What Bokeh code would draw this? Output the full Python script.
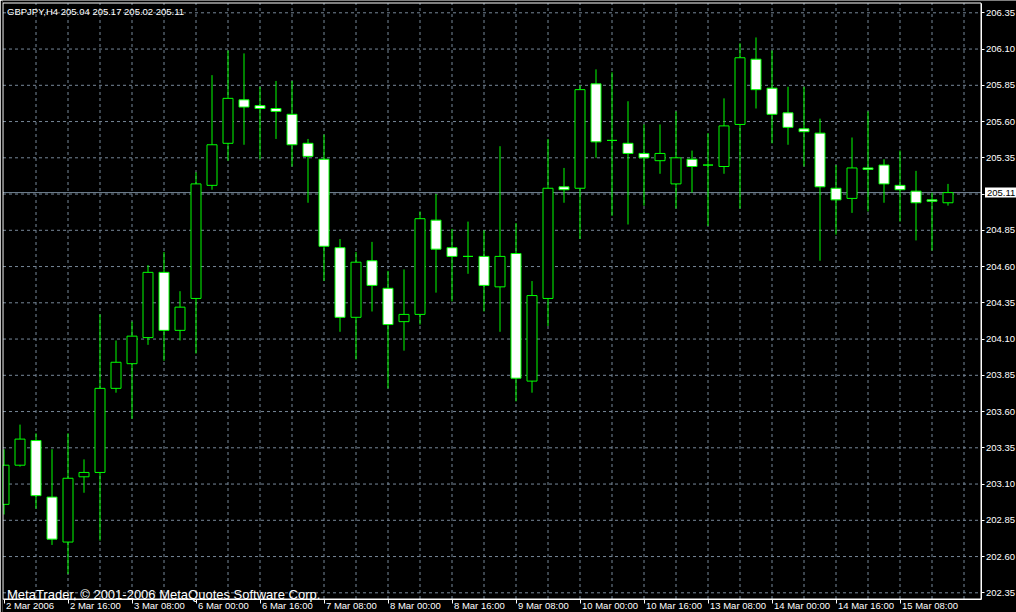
from bokeh.plotting import figure
from bokeh.models import (FixedTicker, Label, LabelSet, ColumnDataSource,
                          Range1d, PrintfTickFormatter, LinearAxis)
from bokeh.core.properties import value
from bokeh.embed import file_html
from bokeh.resources import INLINE

# ---------------- data ----------------
symbol_title = "GBPJPY,H4  205.04 205.17 205.02 205.11"
copyright_text = "MetaTrader, \u00a9 2001-2006 MetaQuotes Software Corp."
current_price = 205.11

opens = [202.96, 203.23, 203.40, 203.01, 202.70, 203.15, 203.18, 203.76, 203.93, 204.11,
         204.56, 204.16, 204.38, 205.16, 205.45, 205.75, 205.71, 205.69, 205.65, 205.45,
         205.34, 204.73, 204.25, 204.64, 204.45, 204.22, 204.27, 204.92, 204.73, 204.67,
         204.67, 204.46, 204.69, 203.81, 204.38, 205.15, 205.14, 205.86, 205.47, 205.45,
         205.38, 205.33, 205.17, 205.34, 205.30, 205.29, 205.58, 206.03, 205.83, 205.66,
         205.55, 205.52, 205.14, 205.07, 205.28, 205.30, 205.16, 205.12, 205.06, 205.04]
highs = [203.34, 203.51, 203.45, 203.34, 203.45, 203.27, 204.27, 204.09, 204.22, 204.61,
         204.70, 204.43, 205.25, 205.92, 206.09, 206.07, 205.84, 205.88, 205.88, 205.48,
         205.51, 204.79, 204.70, 204.77, 204.57, 204.58, 204.98, 205.10, 204.86, 204.91,
         204.85, 205.43, 204.90, 204.50, 205.48, 205.28, 205.85, 205.96, 205.94, 205.74,
         205.58, 205.58, 205.67, 205.40, 205.52, 205.76, 206.14, 206.18, 206.09, 205.84,
         205.84, 205.62, 205.30, 205.49, 205.67, 205.34, 205.40, 205.26, 205.11, 205.17]
lows = [202.89, 203.22, 202.93, 202.68, 202.48, 203.04, 202.71, 203.73, 203.55, 204.06,
        203.95, 204.09, 204.00, 205.13, 205.33, 205.44, 205.34, 205.48, 205.29, 205.04,
        204.50, 204.15, 203.96, 204.29, 203.76, 204.02, 204.20, 204.42, 204.36, 204.55,
        204.29, 204.15, 203.67, 203.73, 204.19, 205.04, 204.79, 205.35, 204.95, 204.89,
        205.02, 205.24, 205.00, 205.11, 204.88, 205.24, 205.00, 205.69, 205.45, 205.44,
        205.29, 204.64, 204.82, 204.97, 204.98, 205.04, 204.91, 204.78, 204.71, 205.02]
closes = [203.23, 203.41, 203.02, 202.72, 203.14, 203.18, 203.76, 203.94, 204.12, 204.56,
          204.16, 204.32, 205.17, 205.44, 205.76, 205.70, 205.69, 205.67, 205.44, 205.36,
          204.74, 204.25, 204.63, 204.47, 204.20, 204.27, 204.93, 204.72, 204.67, 204.67,
          204.47, 204.67, 203.83, 204.40, 205.14, 205.13, 205.82, 205.46, 205.47, 205.38,
          205.35, 205.38, 205.35, 205.29, 205.30, 205.57, 206.04, 205.82, 205.65, 205.56,
          205.53, 205.15, 205.06, 205.28, 205.27, 205.17, 205.13, 205.04, 205.05, 205.11]

date_labels = ["2 Mar 2006", "2 Mar 16:00", "3 Mar 08:00", "6 Mar 00:00", "6 Mar 16:00",
               "7 Mar 08:00", "8 Mar 00:00", "8 Mar 16:00", "9 Mar 08:00", "10 Mar 00:00",
               "10 Mar 16:00", "13 Mar 08:00", "14 Mar 00:00", "14 Mar 16:00", "15 Mar 08:00"]
date_label_bars = [0, 4, 8, 12, 16, 20, 24, 28, 32, 36, 40, 44, 48, 52, 56]

price_ticks = [202.35, 202.60, 202.85, 203.10, 203.35, 203.60, 203.85, 204.10, 204.35,
               204.60, 204.85, 205.10, 205.35, 205.60, 205.85, 206.10, 206.35]

# ---------------- layout / styling ----------------
GREEN = "#00FF00"
GRID = "#778899"
FONT = "Liberation Sans"
W, H = 1016, 612
LEFT = 2                                 # canvas pixels left of the frame
PX_BAR, PX_PRICE = 16.0, 145.0          # pixels per bar / per price unit
BAR0_PX, TOP_TICK_PX = 3.5, 12.3        # canvas pixel of bar 0 and of the top price tick

x_start = (LEFT - BAR0_PX) / PX_BAR
x_end = x_start + (W - LEFT) / PX_BAR
y_end = price_ticks[-1] + TOP_TICK_PX / PX_PRICE
y_start = y_end - H / PX_PRICE

# chart box (labels live outside it, inside the canvas)
cx0 = x_start + 0.5 / PX_BAR
cx1 = x_start + (980.5 - LEFT) / PX_BAR
cy1 = y_end - 2.5 / PX_PRICE
cy0 = y_end - 598.5 / PX_PRICE

bars = list(range(len(opens)))
tops = [max(o, c) for o, c in zip(opens, closes)]
bottoms = [min(o, c) for o, c in zip(opens, closes)]
fills = ["white" if c < o else "black" for o, c in zip(opens, closes)]

src = ColumnDataSource(dict(x=bars, o=opens, h=highs, l=lows, c=closes,
                            top=tops, bottom=bottoms, fill=fills))

p = figure(width=W, height=H, output_backend="svg", toolbar_location=None,
           x_range=Range1d(x_start, x_end), y_range=Range1d(y_start, y_end),
           x_axis_type=None, y_axis_type=None,
           background_fill_color="black", border_fill_color="black",
           outline_line_color=None, min_border=0, min_border_left=LEFT)

# grid lines (bounded to the chart box)
vgrid = [b for b in range(2, len(opens) + 1, 2)]
p.segment(x0=vgrid, y0=[cy0] * len(vgrid), x1=vgrid, y1=[cy1] * len(vgrid),
          line_color=GRID, line_dash="3 3", line_width=1)
p.segment(x0=[cx0] * len(price_ticks), y0=price_ticks, x1=[cx1] * len(price_ticks), y1=price_ticks,
          line_color=GRID, line_dash="3 3", line_width=1)

# bid line
p.segment(x0=[cx0], y0=[current_price], x1=[cx1], y1=[current_price],
          line_color=GRID, line_width=1)

# candles
p.segment(x0="x", y0="l", x1="x", y1="h", source=src, line_color=GREEN, line_width=1)
p.vbar(x="x", width=0.625, top="top", bottom="bottom", source=src,
       fill_color="fill", line_color=GREEN, line_width=1)

# chart border
p.quad(left=[cx0], right=[cx1], bottom=[cy0], top=[cy1],
       fill_color=None, line_color="white", line_width=1)

# right price axis
yaxis = LinearAxis(fixed_location=cx1, bounds=(cy0, cy1),
                   ticker=FixedTicker(ticks=price_ticks),
                   formatter=PrintfTickFormatter(format="%.2f"),
                   major_label_overrides={205.1: ""},
                   axis_line_color="white", major_tick_line_color="white",
                   major_tick_out=3, major_tick_in=0, minor_tick_line_color=None,
                   major_label_text_color="white", major_label_text_font=FONT,
                   major_label_text_font_size="9.5px", major_label_standoff=2)
p.add_layout(yaxis, "right")

# bottom time axis (tick marks; labels left-aligned from the ticks)
xaxis = LinearAxis(fixed_location=cy0, bounds=(cx0, cx1),
                   ticker=FixedTicker(ticks=date_label_bars),
                   major_label_overrides={b: "" for b in date_label_bars},
                   axis_line_color="white", major_tick_line_color="white",
                   major_tick_out=4, major_tick_in=0, minor_tick_line_color=None)
p.add_layout(xaxis, "below")

lab_src = ColumnDataSource(dict(x=date_label_bars, text=date_labels))
p.add_layout(LabelSet(x="x", y=cy0, source=lab_src, text="text",
                      x_offset=2, y_offset=-10, text_align="left", text_baseline="alphabetic",
                      text_color="white", text_font=value(FONT), text_font_size="9.5px"))

# texts
p.add_layout(Label(x=cx0, y=cy1, x_offset=4, y_offset=-3, text=symbol_title,
                   text_baseline="top", text_align="left", text_color="white",
                   text_font=FONT, text_font_size="9.5px"))
p.add_layout(Label(x=cx0, y=cy0, x_offset=4, y_offset=5, text=copyright_text,
                   text_baseline="alphabetic", text_align="left", text_color="white",
                   text_font=FONT, text_font_size="13px"))
p.add_layout(Label(x=cx1, y=current_price, x_offset=4, y_offset=0,
                   text=f"{current_price:.2f}",
                   text_baseline="middle", text_align="left", text_color="black",
                   text_font=FONT, text_font_size="9.5px",
                   background_fill_color="white", padding=2))

open("out.html", "w").write(file_html(p, INLINE))
